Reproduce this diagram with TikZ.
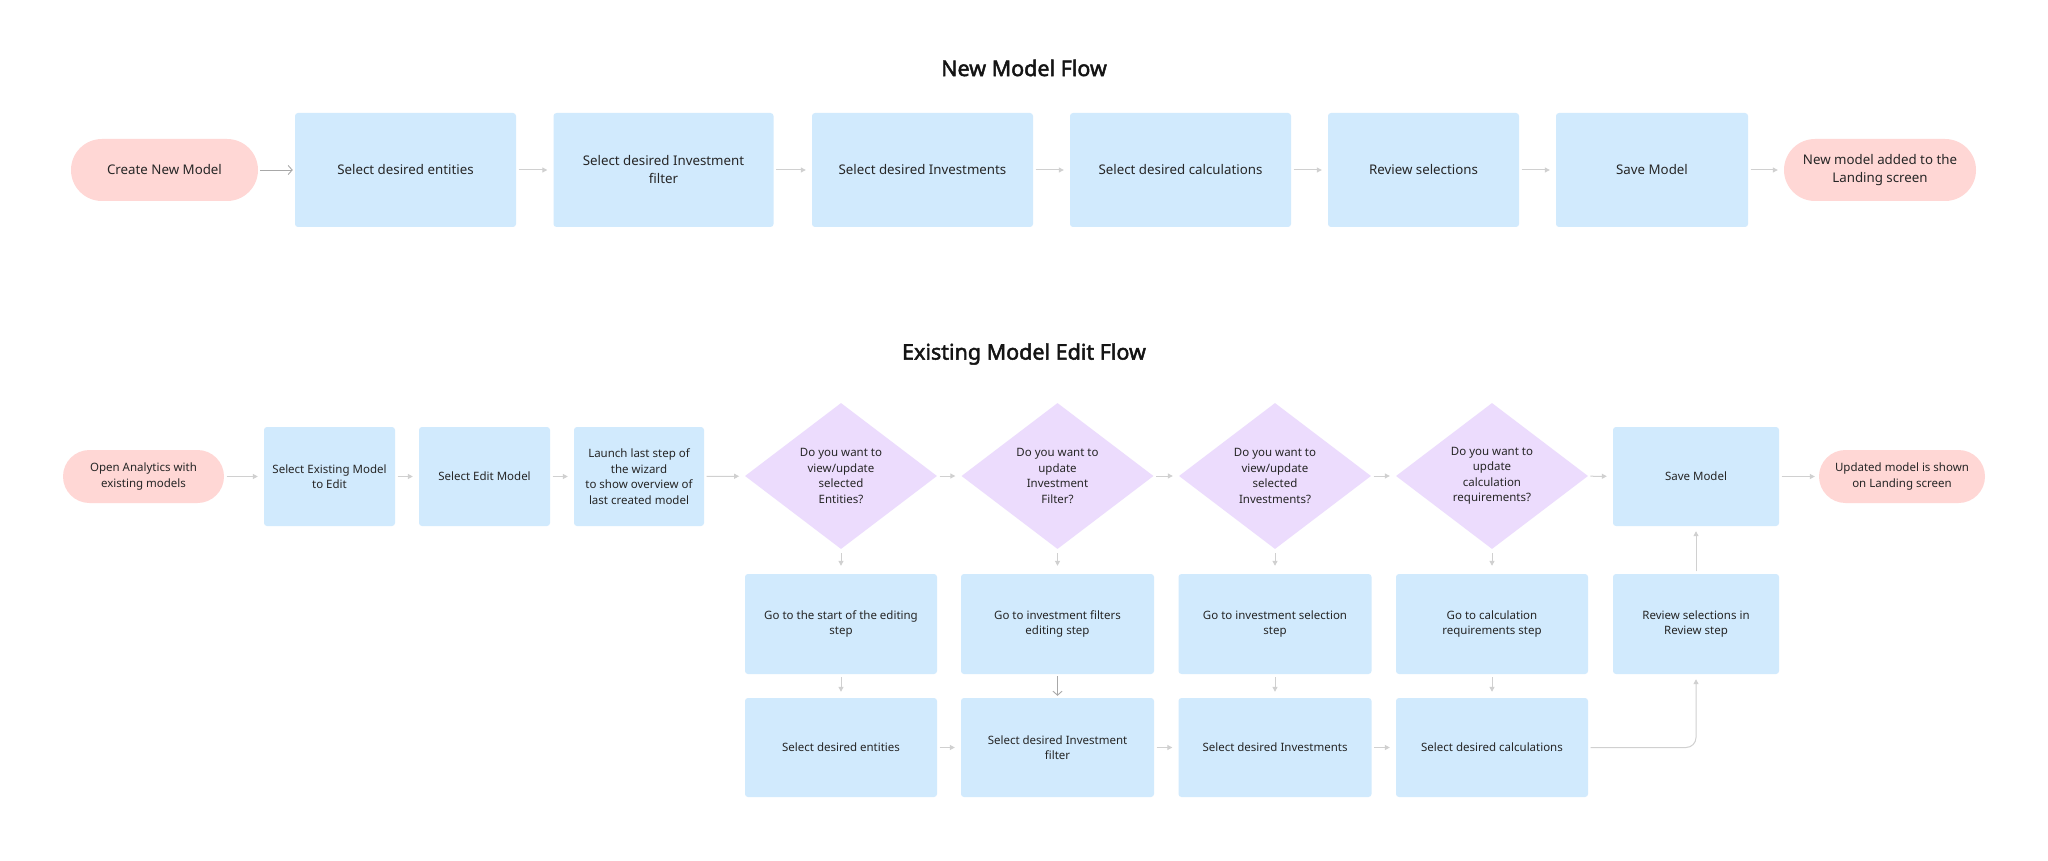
\documentclass[tikz,border=0pt]{standalone}
\usepackage{fontspec}
\setmainfont{Noto Sans}[AutoFakeBold=2.2]
\usetikzlibrary{arrows.meta,shapes.geometric}
\definecolor{pinkfill}{HTML}{FFD7D5}
\definecolor{bluefill}{HTML}{D1EAFD}
\definecolor{lavfill}{HTML}{ECDCFD}
\definecolor{txt}{HTML}{262626}
\definecolor{arrowgray}{HTML}{D0D0D0}
\definecolor{opengray}{HTML}{A8A8A8}
\tikzset{
  topfont/.style={font=\fontsize{13.3}{18}\selectfont, text=txt, align=center},
  botfont/.style={font=\fontsize{11.5}{15.5}\selectfont, text=txt, align=center},
  topbox/.style={topfont, fill=bluefill, rounded corners=3pt, inner sep=0pt, minimum height=114pt},
  toppill/.style={topfont, fill=pinkfill, rounded corners=31pt, inner sep=0pt, minimum height=62pt},
  botbox/.style={botfont, fill=bluefill, rounded corners=3pt, inner sep=0pt, minimum height=99pt},
  botpill/.style={botfont, fill=pinkfill, rounded corners=26.5pt, inner sep=0pt, minimum height=53pt},
  decision/.style={botfont, diamond, fill=lavfill, inner sep=0pt, aspect=1.315, minimum width=192pt, minimum height=146pt},
  titlefont/.style={font=\fontsize{21.5}{26}\selectfont\bfseries, text=black!92},
  arr/.style={draw=arrowgray, line width=1pt, -{Triangle[length=5pt,width=5pt]}, shorten <=2.5pt, shorten >=6pt},
  openarr/.style={draw=opengray, line width=0.9pt, -{Straight Barb[length=4pt,width=9pt]}, shorten <=2pt, shorten >=2pt},
}
\begin{document}
\begin{tikzpicture}[x=1pt,y=-1pt]
\useasboundingbox[fill=white] (0,0) rectangle (2048,861);

% ---------- New Model Flow ----------
\node[titlefont] (t1) at (1024,68) {New Model Flow};

\node[toppill, minimum width=187pt] (p1) at (164.5,170) {Create New Model};
\node[topbox, minimum width=221pt] (b1) at (405.5,170) {Select desired entities};
\node[topbox, minimum width=220pt] (b2) at (663.5,170) {Select desired Investment\\filter};
\node[topbox, minimum width=221pt] (b3) at (922.5,170) {Select desired Investments};
\node[topbox, minimum width=221pt] (b4) at (1180.5,170) {Select desired calculations};
\node[topbox, minimum width=191pt] (b5) at (1423.5,170) {Review selections};
\node[topbox, minimum width=192pt] (b6) at (1652,170) {Save Model};
\node[toppill, minimum width=192pt] (p2) at (1880,170) {New model added to the\\Landing screen};

\draw[openarr] (p1) -- (b1);
\draw[arr] (b1) -- (b2);
\draw[arr] (b2) -- (b3);
\draw[arr] (b3) -- (b4);
\draw[arr] (b4) -- (b5);
\draw[arr] (b5) -- (b6);
\draw[arr] (b6) -- (p2);

% ---------- Existing Model Edit Flow ----------
\node[titlefont] (t2) at (1024,354) {Existing Model Edit Flow};

\node[botpill, minimum width=161pt] (q1) at (143.5,476.5) {Open Analytics with\\existing models};
\node[botbox, minimum width=131pt] (e1) at (329.5,476.5) {Select Existing Model\\to Edit};
\node[botbox, minimum width=131pt] (e2) at (484.5,476.5) {Select Edit Model};
\node[botbox, minimum width=130pt] (e3) at (639,476.5) {Launch last step of\\the wizard\\to show overview of\\last created model};
\node[decision] (d1) at (841,476) {Do you want to\\view/update\\selected\\Entities?};
\node[decision] (d2) at (1057.5,476) {Do you want to\\update\\Investment\\Filter?};
\node[decision] (d3) at (1275,476) {Do you want to\\view/update\\selected\\Investments?};
\node[decision] (d4) at (1492,476) {Do you want to\\update\\calculation\\requirements?};
\node[botbox, minimum width=166pt] (sv) at (1696,476.5) {Save Model};
\node[botpill, minimum width=166pt] (q2) at (1902,476.5) {Updated model is shown\\on Landing screen};

\node[botbox, minimum width=192pt, minimum height=100pt] (g1) at (841,624) {Go to the start of the editing\\step};
\node[botbox, minimum width=193pt, minimum height=100pt] (g2) at (1057.5,624) {Go to investment filters\\editing step};
\node[botbox, minimum width=193pt, minimum height=100pt] (g3) at (1275,624) {Go to investment selection\\step};
\node[botbox, minimum width=192pt, minimum height=100pt] (g4) at (1492,624) {Go to calculation\\requirements step};
\node[botbox, minimum width=166pt, minimum height=100pt] (rv) at (1696,624) {Review selections in\\Review step};

\node[botbox, minimum width=192pt] (s1) at (841,747.5) {Select desired entities};
\node[botbox, minimum width=193pt] (s2) at (1057.5,747.5) {Select desired Investment\\filter};
\node[botbox, minimum width=193pt] (s3) at (1275,747.5) {Select desired Investments};
\node[botbox, minimum width=192pt] (s4) at (1492,747.5) {Select desired calculations};

\draw[arr] (q1) -- (e1);
\draw[arr] (e1) -- (e2);
\draw[arr] (e2) -- (e3);
\draw[arr] (e3) -- (d1);
\draw[arr] (d1) -- (d2);
\draw[arr] (d2) -- (d3);
\draw[arr] (d3) -- (d4);
\draw[arr] (d4) -- (sv);
\draw[arr, shorten >=4pt] (sv) -- (q2);

\draw[arr, shorten <=4pt, shorten >=8pt] (d1) -- (g1);
\draw[arr, shorten <=4pt, shorten >=8pt] (d2) -- (g2);
\draw[arr, shorten <=4pt, shorten >=8pt] (d3) -- (g3);
\draw[arr, shorten <=4pt, shorten >=8pt] (d4) -- (g4);

\draw[arr, shorten <=3pt] (g1) -- (s1);
\draw[openarr] (g2) -- (s2);
\draw[arr, shorten <=3pt] (g3) -- (s3);
\draw[arr, shorten <=3pt] (g4) -- (s4);

\draw[arr] (s1) -- (s2);
\draw[arr] (s2) -- (s3);
\draw[arr] (s3) -- (s4);

\draw[arr, rounded corners=10pt, shorten >=5pt] (s4.east) -| (rv.south);
\draw[arr, shorten >=5pt] (rv) -- (sv);
\end{tikzpicture}
\end{document}
